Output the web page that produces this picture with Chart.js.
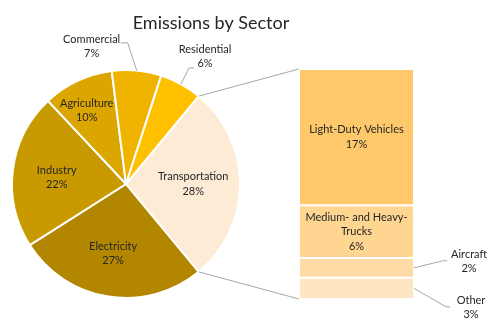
<!DOCTYPE html>
<html>
<head>
<meta charset="utf-8">
<script src="https://cdn.jsdelivr.net/npm/chart.js@4.4.1/dist/chart.umd.min.js"></script>
<style>
  body { margin: 0; background: #fff; }
  #wrap { position: relative; width: 494px; height: 330px; }
  canvas { position: absolute; left: 0; top: 0; }
</style>
</head>
<body>
<div id="wrap">
  <canvas id="pie" width="494" height="330"></canvas>
  <canvas id="bar" width="494" height="330"></canvas>
</div>
<script>
// data
const chartTitle = 'Emissions by Sector';
const sectors = ['Transportation', 'Electricity', 'Industry', 'Agriculture', 'Commercial', 'Residential'];
const sectorShares = [28, 27, 22, 10, 7, 6];
const sectorColors = ['#FDEBD6', '#B38600', '#C89A00', '#DCA600', '#F0B400', '#FFC000'];

// breakdown of the Transportation slice, top to bottom
const transportParts = ['Light-Duty Vehicles', 'Medium- and Heavy-\nTrucks', 'Aircraft', 'Other'];
const transportShares = [16.6, 6.4, 2.4, 2.6];
const transportColors = ['#FFC96B', '#FFD592', '#FFDCA6', '#FFE6C2'];

const FONT = 'Lato, "Open Sans", sans-serif';
const TEXT = '#262626';
const LINE = '#A6A6A6';
const LH = 14.5;

function drawLines(ctx, lines, x, y) {
  const y0 = y - (lines.length - 1) * LH / 2;
  lines.forEach((l, i) => ctx.fillText(l, x, y0 + i * LH));
}

function pct(v) { return Math.round(v) + '%'; }

// label placement for the pie slices: r = share of radius, da = degrees off the slice middle
const sliceLabelPos = [
  { r: 0.59, da: 0 },
  { r: 0.62, da: 1.5 },
  { r: 0.61, da: -2 },
  { r: 0.73, da: -3 },
  { r: 1.245, da: -19.4, elbow: [36, -3.5], end: [29, -3.5] },
  { r: 1.316, da: 3, elbow: [-16, 11.5], end: [-11, 11.5] }
];

const titlePlugin = {
  id: 'titleText',
  afterDraw(chart) {
    const ctx = chart.ctx;
    ctx.save();
    ctx.font = '18px ' + FONT;
    ctx.fillStyle = TEXT;
    ctx.textAlign = 'center';
    ctx.textBaseline = 'middle';
    ctx.fillText(chartTitle, 211, 23);
    ctx.restore();
  }
};

const pieLabels = {
  id: 'pieLabels',
  afterDatasetsDraw(chart) {
    const ctx = chart.ctx;
    const arcs = chart.getDatasetMeta(0).data;
    ctx.save();
    ctx.font = '11px ' + FONT;
    ctx.fillStyle = TEXT;
    ctx.textAlign = 'center';
    ctx.textBaseline = 'middle';
    arcs.forEach((arc, i) => {
      const p = sliceLabelPos[i];
      const mid = (arc.startAngle + arc.endAngle) / 2;
      const a = mid + p.da * Math.PI / 180;
      const R = arc.outerRadius;
      const tx = arc.x + Math.cos(a) * R * p.r;
      const ty = arc.y + Math.sin(a) * R * p.r;
      if (p.elbow) {
        ctx.strokeStyle = LINE;
        ctx.lineWidth = 1;
        ctx.beginPath();
        ctx.moveTo(arc.x + Math.cos(mid) * R, arc.y + Math.sin(mid) * R);
        ctx.lineTo(tx + p.elbow[0], ty + p.elbow[1]);
        ctx.lineTo(tx + p.end[0], ty + p.end[1]);
        ctx.stroke();
      }
      drawLines(ctx, [sectors[i], pct(sectorShares[i])], tx, ty);
    });
    ctx.restore();
  }
};

const pieChart = new Chart(document.getElementById('pie'), {
  type: 'pie',
  data: {
    labels: sectors,
    datasets: [{
      data: sectorShares,
      backgroundColor: sectorColors,
      borderColor: '#fff',
      borderWidth: 2
    }]
  },
  options: {
    responsive: false,
    animation: false,
    rotation: 39.6,
    layout: { padding: { left: 11, top: 69, right: 253, bottom: 31 } },
    plugins: { legend: { display: false }, tooltip: { enabled: false } }
  },
  plugins: [pieLabels, titlePlugin]
});

// outside labels of the bar: offset of text from segment right-middle, leader elbow/end relative to text
const partLabelPos = [
  null,
  null,
  { dx: 56, dy: -6.5, elbow: [-26, -0.5], end: [-22, -0.5] },
  { dx: 58, dy: 19, elbow: [-25, -0.5], end: [-21, -0.5] }
];

const barLabels = {
  id: 'barLabels',
  afterDatasetsDraw(chart) {
    const ctx = chart.ctx;
    let top = Infinity, bottom = -Infinity, left = 0;
    ctx.save();
    ctx.font = '11px ' + FONT;
    ctx.fillStyle = TEXT;
    ctx.textAlign = 'center';
    ctx.textBaseline = 'middle';
    ctx.strokeStyle = LINE;
    ctx.lineWidth = 1;
    transportParts.forEach((name, i) => {
      const el = chart.getDatasetMeta(i).data[0];
      const t = Math.min(el.y, el.base), b = Math.max(el.y, el.base);
      top = Math.min(top, t); bottom = Math.max(bottom, b);
      left = el.x - el.width / 2;
      const right = el.x + el.width / 2;
      const midY = (t + b) / 2;
      const lines = name.split('\n').concat(pct(transportShares[i]));
      const p = partLabelPos[i];
      if (!p) {
        drawLines(ctx, lines, el.x, midY);
      } else {
        const tx = right + p.dx, ty = midY + p.dy;
        ctx.beginPath();
        ctx.moveTo(right + 1, midY);
        ctx.lineTo(tx + p.elbow[0], ty + p.elbow[1]);
        ctx.lineTo(tx + p.end[0], ty + p.end[1]);
        ctx.stroke();
        drawLines(ctx, lines, tx, ty);
      }
    });
    // connector lines from the Transportation slice to the bar
    const arc = pieChart.getDatasetMeta(0).data[0];
    const R = arc.outerRadius;
    ctx.beginPath();
    ctx.moveTo(arc.x + Math.cos(arc.startAngle) * R, arc.y + Math.sin(arc.startAngle) * R);
    ctx.lineTo(left - 1, top);
    ctx.moveTo(arc.x + Math.cos(arc.endAngle) * R, arc.y + Math.sin(arc.endAngle) * R);
    ctx.lineTo(left - 1, bottom);
    ctx.stroke();
    ctx.restore();
  }
};

const totalTransport = transportShares.reduce((a, b) => a + b, 0);

new Chart(document.getElementById('bar'), {
  type: 'bar',
  data: {
    labels: ['Transportation'],
    datasets: transportParts.map((p, i) => ({
      label: p,
      data: [transportShares[i]],
      backgroundColor: transportColors[i],
      borderColor: '#fff',
      borderWidth: { top: 1, bottom: 1, left: 0, right: 0 },
      borderSkipped: false,
      inflateAmount: 0,
      barPercentage: 1,
      categoryPercentage: 1
    }))
  },
  options: {
    responsive: false,
    animation: false,
    layout: { padding: { left: 300, right: 81, top: 69, bottom: 31 } },
    scales: {
      x: { display: false, stacked: true },
      y: { display: false, stacked: true, reverse: true, min: 0, max: totalTransport }
    },
    plugins: { legend: { display: false }, tooltip: { enabled: false } }
  },
  plugins: [barLabels]
});
</script>
</body>
</html>
